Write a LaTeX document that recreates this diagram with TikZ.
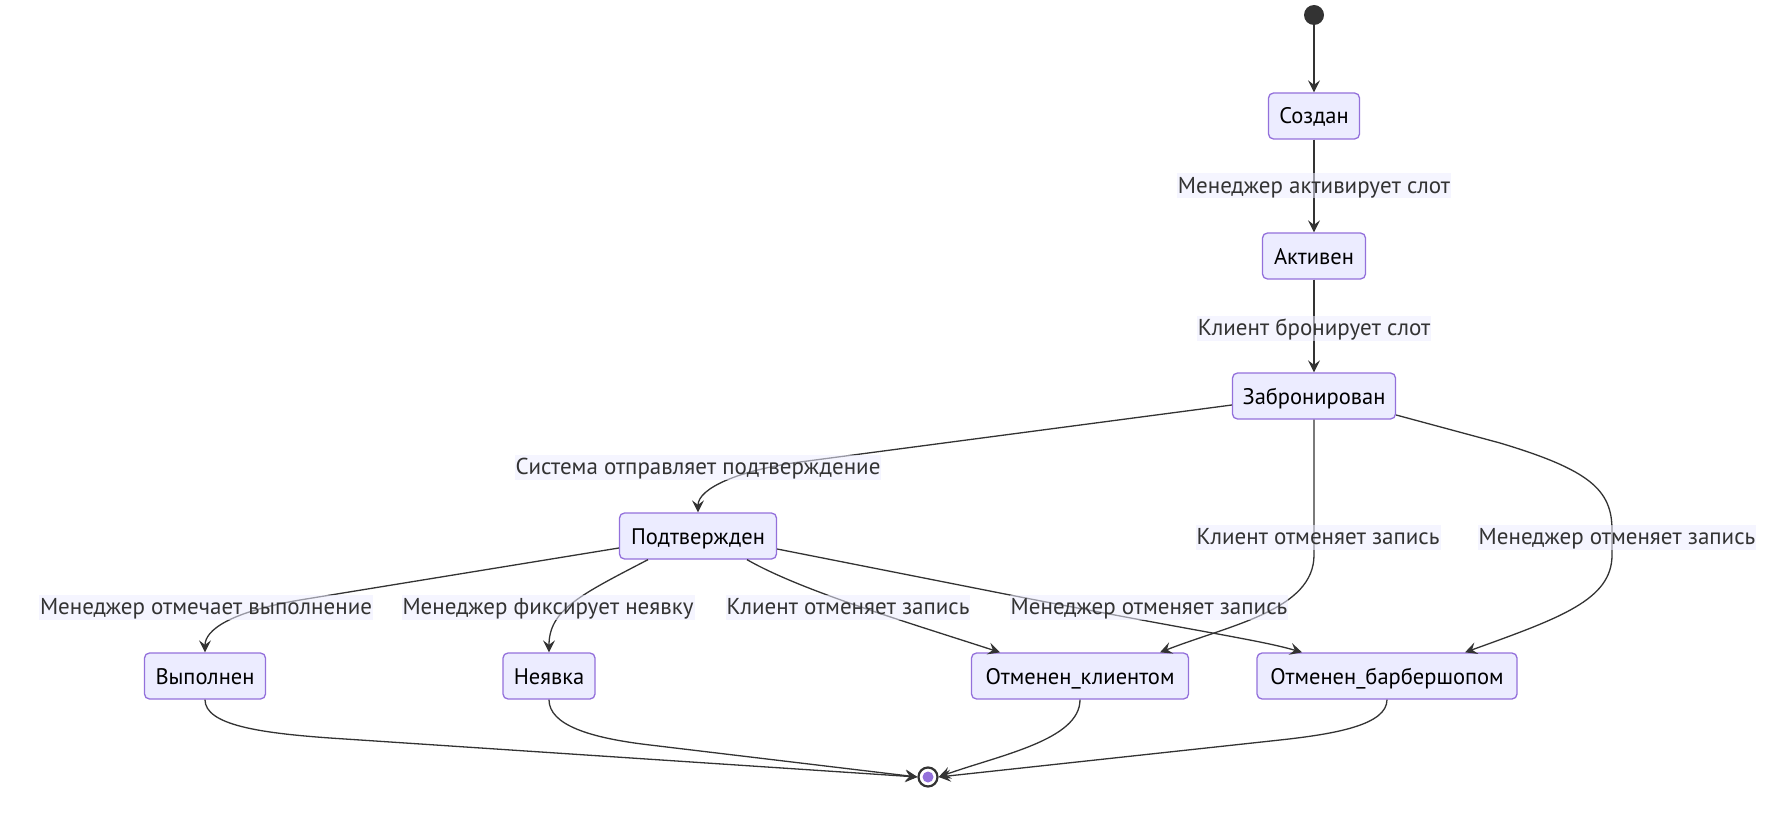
\documentclass[tikz,border=0pt]{standalone}
\usepackage{fontspec}
\setmainfont{PT Sans}
\usetikzlibrary{arrows.meta,calc}
\definecolor{nodefill}{HTML}{ECECFF}
\definecolor{nodeline}{HTML}{9370DB}
\definecolor{edgecol}{HTML}{333333}
\begin{document}
\begin{tikzpicture}[x=1pt,y=-1pt,
  state/.style={draw=nodeline, fill=nodefill, line width=1.3pt, rounded corners=5pt,
    minimum height=46pt, inner sep=0pt, text height=16pt, text depth=0pt,
    font=\fontsize{22.5}{26}\selectfont, text=black},
  lbl/.style={fill=nodefill, fill opacity=0.55, text opacity=1, text=edgecol,
    inner xsep=1pt, inner ysep=0pt, minimum height=25pt, text height=16pt, text depth=1pt,
    font=\fontsize{23}{26}\selectfont},
  tr/.style={draw=edgecol, line width=1.3pt, -{Stealth[length=12pt,width=12pt,inset=4.5pt]}},
]
\useasboundingbox (0,0) rectangle (1780,837);
% states
\node[circle, fill=edgecol, minimum size=20pt, inner sep=0pt] (start) at (1314,15) {};
\node[state, minimum width=91pt] (sozdan) at (1314,116) {Создан};
\node[state, minimum width=103pt] (aktiv) at (1314,256) {Активен};
\node[state, minimum width=163pt] (zab) at (1314,396) {Забронирован};
\node[state, minimum width=157pt] (podt) at (698,536) {Подтвержден};
\node[state, minimum width=121pt] (vyp) at (205,676) {Выполнен};
\node[state, minimum width=92pt] (neyav) at (549,676) {Неявка};
\node[state, minimum width=217pt] (otkl) at (1080,676) {Отменен\_клиентом};
\node[state, minimum width=260pt] (otbar) at (1387,676) {Отменен\_барбершопом};
\node[circle, draw=edgecol, line width=2.2pt, fill=white, minimum size=19pt, inner sep=0pt] (end) at (928,777) {};
\node[circle, fill=nodeline, minimum size=11pt, inner sep=0pt] (endin) at (end.center) {};
% transitions
\draw[tr] (start) -- (sozdan.north);
\draw[tr] (sozdan.south) -- (aktiv.north);
\draw[tr] (aktiv.south) -- (zab.north);
\draw[tr] ([yshift=-9pt]zab.west) -- (800,462) .. controls (740,470) and (698,488) .. (podt.north);
\draw[tr] (zab.south) -- (1314,555) .. controls (1314,610) and (1230,625) .. ([xshift=80pt]otkl.north);
\draw[tr] ([yshift=-19pt]zab.east) -- (1500,443) .. controls (1590,470) and (1612,490) .. (1612,530)
  -- (1612,555) .. controls (1612,600) and (1560,618) .. ([xshift=78pt]otbar.north);
\draw[tr] ([yshift=-12pt]podt.west) -- (300,600) .. controls (230,612) and (205,630) .. (vyp.north);
\draw[tr] ([xshift=-50pt]podt.south) .. controls (580,595) and (549,610) .. (neyav.north);
\draw[tr] ([xshift=49pt]podt.south) .. controls (800,590) and (900,620) .. ([xshift=-80pt]otkl.north);
\draw[tr] ([yshift=-13pt]podt.east) -- (1010,595) .. controls (1200,632) and (1260,640) .. ([xshift=-85pt]otbar.north);
\draw[tr] (vyp.south) .. controls (205,725) and (260,733) .. (330,738) -- (end.west);
\draw[tr] (neyav.south) .. controls (549,725) and (590,738) .. (650,745) -- (end.west);
\draw[tr] (otkl.south) .. controls (1080,740) and (1000,755) .. (end.east);
\draw[tr] (otbar.south) .. controls (1387,725) and (1335,734) .. (1280,740) -- (end.east);
% labels
\node[lbl] (l1) at (1314,186) {Менеджер активирует слот};
\node[lbl] (l2) at (1314,328) {Клиент бронирует слот};
\node[lbl] (l3) at (698,467) {Система отправляет подтверждение};
\node[lbl] (l4) at (1318,537) {Клиент отменяет запись};
\node[lbl] (l5) at (1617,537) {Менеджер отменяет запись};
\node[lbl] (l6) at (206,607) {Менеджер отмечает выполнение};
\node[lbl] (l7) at (548,607) {Менеджер фиксирует неявку};
\node[lbl] (l8) at (848,607) {Клиент отменяет запись};
\node[lbl] (l9) at (1149,607) {Менеджер отменяет запись};
\end{tikzpicture}
\end{document}
